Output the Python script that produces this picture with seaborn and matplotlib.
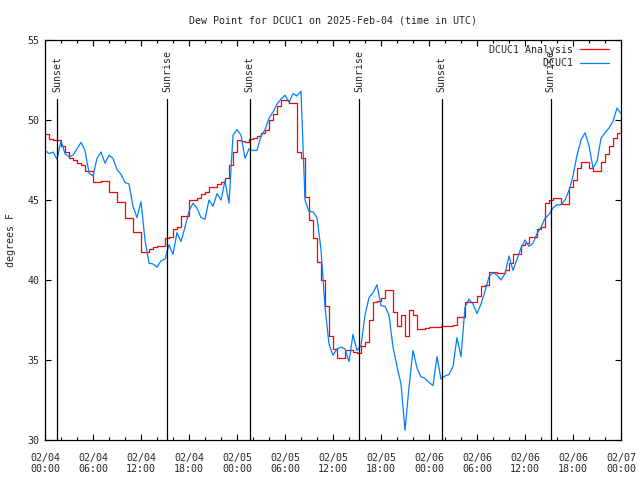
import numpy as np
import pandas as pd
import matplotlib
matplotlib.use("Agg")
import matplotlib.pyplot as plt
import matplotlib.dates as mdates
import seaborn as sns

# half-hourly readings, 02/04 00:00 to 02/07 00:00 UTC
analysis_vals = [
    49.1, 48.8, 48.75, 48.75, 48.4, 48.0, 47.6, 47.5, 47.3, 47.2,
    46.8, 46.8, 46.1, 46.1, 46.2, 46.2, 45.5, 45.5, 44.9, 44.9,
    43.9, 43.9, 43.0, 43.0, 41.75, 41.75, 41.95, 42.05, 42.1, 42.1,
    42.6, 42.7, 43.2, 43.3, 44.0, 44.0, 45.0, 45.0, 45.1, 45.4,
    45.5, 45.8, 45.8, 46.0, 46.1, 46.4, 47.2, 48.0, 48.75, 48.7,
    48.65, 48.8, 48.9, 49.0, 49.2, 49.4, 50.0, 50.4, 50.85, 51.25,
    51.25, 51.05, 51.05, 48.0, 47.6, 45.2, 43.75, 42.6, 41.1, 40.0,
    38.4, 36.5, 35.7, 35.15, 35.15, 35.6, 35.6, 35.5, 35.45, 35.9,
    36.1, 37.5, 38.65, 38.7, 38.85, 39.4, 39.4, 38.0, 37.1, 37.8,
    36.5, 38.1, 37.8, 36.95, 36.95, 37.0, 37.05, 37.05, 37.05, 37.1,
    37.1, 37.15, 37.2, 37.7, 37.7, 38.65, 38.6, 38.6, 39.0, 39.6,
    39.7, 40.5, 40.5, 40.45, 40.45, 40.6, 41.05, 41.6, 41.65, 42.2,
    42.3, 42.7, 42.7, 43.2, 43.3, 44.8, 45.0, 45.15, 45.15, 44.75,
    44.75, 45.8, 46.25, 47.0, 47.4, 47.4, 47.0, 46.8, 46.8, 47.4,
    47.9, 48.4, 48.85, 49.2, 50.0,
]
station_vals = [
    48.1, 47.9, 48.0, 47.55, 48.7, 47.9, 47.7, 47.8, 48.2, 48.6,
    48.1, 46.7, 46.5, 47.6, 48.0, 47.3, 47.8, 47.6, 46.9, 46.6,
    46.1, 46.0, 44.6, 43.9, 44.9, 42.5, 41.05, 41.0, 40.8, 41.2,
    41.3, 42.2, 41.6, 42.96, 42.4, 43.3, 44.3, 44.8, 44.5, 43.9,
    43.8, 45.0, 44.6, 45.4, 45.0, 46.2, 44.8, 49.05, 49.4, 49.05,
    47.6, 48.2, 48.1, 48.1, 49.0, 49.4, 50.1, 50.5, 51.0, 51.3,
    51.55, 51.1, 51.65, 51.5, 51.8, 45.0, 44.27, 44.27, 43.9, 41.9,
    38.3, 36.0, 35.3, 35.7, 35.8, 35.7, 34.9, 36.6, 35.6, 35.9,
    37.8, 38.9, 39.2, 39.7, 38.4, 38.35, 37.8, 35.8, 34.6, 33.5,
    30.6, 33.3, 35.6, 34.5, 33.95, 33.85, 33.6, 33.4, 35.2, 33.8,
    34.0, 34.1, 34.6, 36.4, 35.2, 38.3, 38.8, 38.5, 37.9, 38.5,
    39.3, 40.2, 40.46, 40.3, 40.0, 40.4, 41.5, 40.6, 41.3, 42.0,
    42.5, 42.1, 42.3, 42.9, 43.3, 43.85, 44.1, 44.5, 44.7, 44.7,
    45.0, 45.6, 46.5, 47.8, 48.75, 49.2, 48.4, 47.0, 47.4, 48.85,
    49.2, 49.5, 49.9, 50.75, 50.4,
]
sun_times = ["2025-02-04 01:33", "2025-02-04 15:16", "2025-02-05 01:34",
             "2025-02-05 15:15", "2025-02-06 01:35", "2025-02-06 15:14"]
sun_labels = ["Sunset", "Sunrise", "Sunset", "Sunrise", "Sunset", "Sunrise"]

times = pd.date_range("2025-02-04 00:00", "2025-02-07 00:00", freq="30min")
df = pd.DataFrame({"time": times, "analysis": analysis_vals, "station": station_vals})

sns.set_style("ticks")
plt.rcParams["font.family"] = ["DejaVu Sans Mono"]
fs = 7.2

fig = plt.figure(figsize=(6.4, 4.8), dpi=100)
ax = fig.add_axes([45 / 640, 40 / 480, 576 / 640, 400 / 480])

sns.lineplot(data=df, x="time", y="analysis", ax=ax, color="#ff0000",
             linewidth=0.9, drawstyle="steps-post", label="DCUC1 Analysis")
sns.lineplot(data=df, x="time", y="station", ax=ax, color="#0080ff",
             linewidth=0.9, label="DCUC1".rjust(14))

# sunrise / sunset markers
for t, lab in zip(pd.to_datetime(sun_times), sun_labels):
    ax.axvline(t, ymin=0, ymax=0.8525, color="black", linewidth=0.9)
    ax.text(t, 0.87, lab, transform=ax.get_xaxis_transform(), rotation=90,
            ha="center", va="bottom", fontsize=fs)

ax.set_xlim(times[0], times[-1])
ax.set_ylim(30, 55)
ax.set_yticks(np.arange(30, 56, 5))
ax.xaxis.set_major_locator(mdates.HourLocator(byhour=range(0, 24, 6)))
ax.xaxis.set_minor_locator(mdates.HourLocator(byhour=range(0, 24, 2)))
ax.xaxis.set_major_formatter(mdates.DateFormatter("%m/%d\n%H:%M"))
ax.tick_params(which="both", direction="in", top=True, right=True,
               labelsize=fs, color="black", width=0.8)
ax.tick_params(which="major", length=4.5)
ax.tick_params(which="minor", length=2.5)
ax.tick_params(axis="x", pad=9)
ax.tick_params(axis="y", pad=4)
for lab in ax.get_xticklabels():
    lab.set_linespacing(1.15)
for s in ax.spines.values():
    s.set_linewidth(0.9)
    s.set_color("black")

ax.set_xlabel("")
ax.set_ylabel("degrees F", fontsize=fs, labelpad=8)
ax.set_title("Dew Point for DCUC1 on 2025-Feb-04 (time in UTC)", fontsize=fs, pad=12)

leg = ax.legend(loc="upper right", bbox_to_anchor=(0.988, 1.0), frameon=False,
                fontsize=fs, markerfirst=False, handlelength=2.9,
                handletextpad=0.7, labelspacing=0.35, borderaxespad=0.3,
                borderpad=0.2)

fig.savefig("out.png", dpi=100)
